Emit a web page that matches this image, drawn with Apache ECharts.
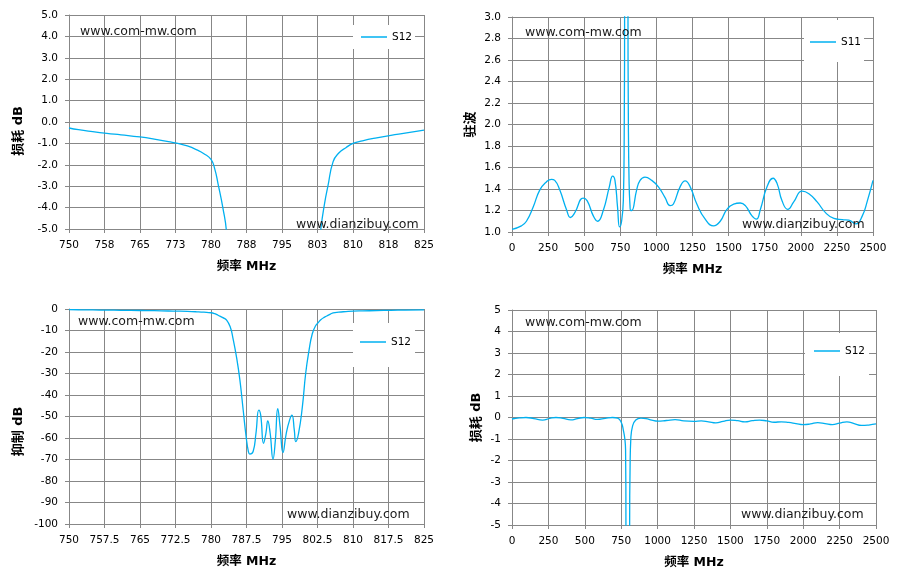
<!DOCTYPE html>
<html>
<head>
<meta charset="utf-8">
<script src="https://cdn.jsdelivr.net/npm/echarts@6/dist/echarts.min.js"></script>
<style>
html,body{margin:0;padding:0;background:#fff;}
#chart{width:902px;height:580px;}
</style>
</head>
<body>
<div id="chart"></div>
<script>
// ---- Data ----
// Narrow-band S12 (dB), 750-825 MHz (used for the loss view and the rejection view)
var s12NarrowFreq = [750, 752, 755, 758, 761, 765, 768, 771, 773, 775, 777, 778.5, 780, 780.8, 781.5, 782.5, 783.3, 784.1, 784.6, 785.4, 786.1, 786.8, 787.4, 787.9, 788.2, 788.9, 789.5, 790.1, 790.5, 791.1, 791.6, 792.0, 792.5, 793.1, 793.6, 794.1, 794.6, 795.2, 795.9, 796.6, 797.1, 797.6, 797.9, 798.5, 799.3, 800.0, 800.7, 801.4, 802.1, 802.7, 803.2, 804.0, 804.7, 805.8, 807, 808.5, 810, 812, 815, 818, 821, 825];
var s12NarrowDb = [-0.28, -0.36, -0.45, -0.53, -0.6, -0.7, -0.8, -0.92, -1.0, -1.12, -1.3, -1.48, -1.75, -2.2, -2.9, -4.0, -5.2, -8.6, -13.2, -22.5, -33, -47, -59, -66.3, -67.5, -66.3, -57.8, -47, -49.4, -62.5, -57.8, -52, -57.8, -69.8, -61, -46.3, -54.8, -66.8, -57.8, -51.7, -49.4, -56.3, -61.7, -57.8, -45.5, -30, -19.4, -11.5, -7.8, -6.2, -5.0, -3.8, -3.0, -1.85, -1.45, -1.2, -1.0, -0.88, -0.74, -0.62, -0.52, -0.38];

// Wide-band S11 VSWR, 0-2500 MHz
var s11Freq = [0, 65, 100, 146, 192, 238, 273, 296, 331, 377, 405, 435, 493, 521, 563, 593, 632, 674, 697, 713, 731, 745, 759, 771, 777, 780, 783, 790, 795, 800, 803, 806, 811, 817, 822, 829, 863, 887, 921, 968, 1014, 1060, 1095, 1118, 1164, 1199, 1234, 1280, 1338, 1396, 1442, 1488, 1535, 1581, 1616, 1662, 1692, 1720, 1766, 1808, 1836, 1870, 1910, 1951, 2009, 2056, 2113, 2171, 2229, 2287, 2333, 2380, 2426, 2461, 2500];
var s11Vswr = [1.025, 1.057, 1.10, 1.23, 1.39, 1.466, 1.49, 1.48, 1.39, 1.21, 1.135, 1.18, 1.315, 1.29, 1.15, 1.10, 1.20, 1.42, 1.52, 1.48, 1.23, 1.047, 1.10, 1.29, 1.9, 3.2, 8, 40, 40, 8, 3.2, 2.0, 1.45, 1.25, 1.20, 1.20, 1.39, 1.48, 1.51, 1.48, 1.42, 1.32, 1.245, 1.26, 1.42, 1.476, 1.42, 1.26, 1.12, 1.057, 1.10, 1.21, 1.26, 1.27, 1.245, 1.15, 1.12, 1.21, 1.42, 1.50, 1.45, 1.29, 1.21, 1.28, 1.38, 1.356, 1.28, 1.18, 1.126, 1.115, 1.11, 1.075, 1.15, 1.29, 1.48];

// Wide-band S12 (dB), 0-2500 MHz
var s12WideFreq = [0, 50, 96, 150, 210, 260, 302, 350, 404, 450, 496, 540, 587, 640, 690, 725, 750, 765, 775, 780, 782.5, 788, 802, 808, 811, 816, 828, 850, 885, 920, 960, 1000, 1060, 1120, 1180, 1250, 1300, 1350, 1400, 1450, 1500, 1550, 1600, 1650, 1700, 1750, 1800, 1850, 1900, 1950, 2000, 2050, 2100, 2150, 2200, 2250, 2300, 2350, 2400, 2450, 2500];
var s12WideDb = [-0.07, -0.02, 0, -0.05, -0.12, -0.04, 0, -0.04, -0.11, -0.05, 0, -0.03, -0.09, -0.04, 0, -0.03, -0.22, -0.6, -1.0, -1.5, -5, -40, -40, -5, -2.3, -1.0, -0.4, -0.12, -0.03, -0.05, -0.12, -0.17, -0.14, -0.1, -0.16, -0.18, -0.16, -0.2, -0.25, -0.18, -0.12, -0.15, -0.2, -0.15, -0.12, -0.16, -0.22, -0.2, -0.23, -0.28, -0.33, -0.3, -0.24, -0.28, -0.33, -0.26, -0.2, -0.28, -0.37, -0.35, -0.3];

// Axis / legend texts
var seriesNames = ['S12', 'S11', 'S12', 'S12'];
var yTitles = ['损耗 dB', '驻波', '抑制 dB', '损耗 dB'];
var xTitle = '频率 MHz';
var watermarkTop = 'www.com-mw.com';
var watermarkBottom = 'www.dianzibuy.com';

function pairs(xs, ys) { return xs.map(function (x, i) { return [x, ys[i]]; }); }

var FONT = "'DejaVu Sans','Noto Sans CJK SC',sans-serif";
var GRID_C = '#878787';
var LINE_C = '#00B0F0';

var grids = [
  {left: 69, top: 15, width: 355, height: 214},
  {left: 512, top: 17, width: 361, height: 215},
  {left: 69, top: 309, width: 355, height: 215},
  {left: 512, top: 310, width: 364, height: 215}
];

function xAxisCfg(i, min, max, interval, fmt) {
  return {
    type: 'value', gridIndex: i, min: min, max: max, interval: interval,
    name: xTitle, nameLocation: 'middle', nameGap: 31,
    nameTextStyle: {fontFamily: FONT, fontSize: 12.5, fontWeight: 'bold', color: '#000'},
    axisLine: {show: true, onZero: false, lineStyle: {color: GRID_C, width: 1}},
    axisTick: {show: true, length: 4, lineStyle: {color: GRID_C}},
    axisLabel: {fontFamily: FONT, fontSize: 10.5, color: '#000', margin: 11, formatter: fmt, showMinLabel: true, showMaxLabel: true},
    splitLine: {show: true, lineStyle: {color: GRID_C, width: 1}}
  };
}
function yAxisCfg(i, min, max, interval, fmt, gap, shift) {
  return {
    type: 'value', gridIndex: i, min: min, max: max, interval: interval,
    name: yTitles[i], nameLocation: 'middle', nameGap: gap,
    nameTextStyle: {fontFamily: FONT, fontSize: 13, fontWeight: 'bold', color: '#000', padding: [0, shift * 2, 0, 0]},
    axisLine: {show: true, onZero: false, lineStyle: {color: GRID_C, width: 1}},
    axisTick: {show: true, length: 4, lineStyle: {color: GRID_C}},
    axisLabel: {fontFamily: FONT, fontSize: 10.5, color: '#000', margin: 11, formatter: fmt},
    splitLine: {show: true, lineStyle: {color: GRID_C, width: 1}}
  };
}
function seriesCfg(i, data) {
  return {
    type: 'line', name: seriesNames[i], xAxisIndex: i, yAxisIndex: i,
    data: data, smooth: true, showSymbol: false, symbol: 'none',
    clip: true, lineStyle: {color: LINE_C, width: 1.3}, itemStyle: {color: LINE_C},
    animation: false
  };
}
function legendCfg(i, left, top, pad) {
  return {
    data: [{name: seriesNames[i]}], left: left, top: top, orient: 'vertical',
    padding: pad, backgroundColor: '#fff', icon: 'rect', itemWidth: 26, itemHeight: 1.5,
    textStyle: {fontFamily: FONT, fontSize: 10.5, color: '#000', lineHeight: 12},
    selectedMode: false
  };
}
function wm(text, x, y) {
  return {type: 'text', x: x, y: y, z: 100, silent: true,
    style: {text: text, fill: '#1a1a1a', font: '12.5px ' + FONT, align: 'left', verticalAlign: 'middle'}};
}

var round0 = function (v) { return String(Math.round(v)); };
var fix1 = function (v) { return v.toFixed(1); };
var plain = function (v) { return String(Math.round(v * 10) / 10); };

var chart = echarts.init(document.getElementById('chart'), null, {renderer: 'canvas'});
chart.setOption({
  animation: false,
  backgroundColor: '#fff',
  grid: grids,
  xAxis: [
    xAxisCfg(0, 750, 825, 7.5, round0),
    xAxisCfg(1, 0, 2500, 250, plain),
    xAxisCfg(2, 750, 825, 7.5, plain),
    xAxisCfg(3, 0, 2500, 250, plain)
  ],
  yAxis: [
    yAxisCfg(0, -5, 5, 1, fix1, 44, 9),
    yAxisCfg(1, 1, 3, 0.2, fix1, 35, 0),
    yAxisCfg(2, -100, 0, 10, plain, 44, 15),
    yAxisCfg(3, -5, 5, 1, plain, 29, 0)
  ],
  legend: [
    legendCfg(0, 353, 25, [6, 3, 6, 8]),
    legendCfg(1, 804, 20, [16, 3, 14, 6]),
    legendCfg(2, 353, 323, [13, 4, 19, 7]),
    legendCfg(3, 805, 333, [12, 4, 19, 9])
  ],
  series: [
    seriesCfg(0, pairs(s12NarrowFreq, s12NarrowDb)),
    seriesCfg(1, pairs(s11Freq, s11Vswr)),
    seriesCfg(2, pairs(s12NarrowFreq, s12NarrowDb)),
    seriesCfg(3, pairs(s12WideFreq, s12WideDb))
  ],
  graphic: [
    wm(watermarkTop, 80, 32),
    wm(watermarkBottom, 296, 225),
    wm(watermarkTop, 525, 33),
    wm(watermarkBottom, 742, 225),
    wm(watermarkTop, 78, 322),
    wm(watermarkBottom, 287, 515),
    wm(watermarkTop, 525, 323),
    wm(watermarkBottom, 741, 515)
  ]
});
</script>
</body>
</html>
